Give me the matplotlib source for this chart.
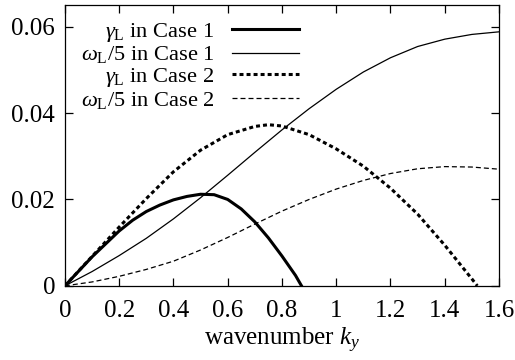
import matplotlib
matplotlib.use("Agg")
import matplotlib.pyplot as plt

plt.rcParams["font.family"] = "Liberation Serif"
plt.rcParams["mathtext.fontset"] = "custom"
plt.rcParams["mathtext.rm"] = "Liberation Serif"
plt.rcParams["mathtext.it"] = "Liberation Serif:italic"

# values
k_g1 = [0, 0.1, 0.2, 0.25, 0.3, 0.35, 0.4, 0.45, 0.5, 0.55, 0.6, 0.65, 0.7,
        0.75, 0.8, 0.85, 0.872]
gamma1 = [0, 0.0067, 0.0127, 0.0152, 0.0172, 0.0187, 0.0199, 0.0207, 0.0212,
          0.0211, 0.0200, 0.0178, 0.0148, 0.0111, 0.0069, 0.0024, 0.0]

k_w = [0, 0.1, 0.2, 0.3, 0.4, 0.5, 0.6, 0.7, 0.8, 0.9, 1.0, 1.1, 1.2, 1.3, 1.4, 1.5, 1.6]
omega1 = [0, 0.0033, 0.0070, 0.0110, 0.0155, 0.0204, 0.0256, 0.0309, 0.0361,
          0.0410, 0.0455, 0.0495, 0.0528, 0.0554, 0.0571, 0.0582, 0.0588]
omega2 = [0, 0.0009, 0.0022, 0.0038, 0.0057, 0.0083, 0.0112, 0.0143, 0.0173,
          0.0200, 0.0224, 0.0244, 0.0260, 0.0271, 0.0276, 0.0275, 0.0270]

k_g2 = [0, 0.1, 0.2, 0.3, 0.4, 0.5, 0.6, 0.7, 0.75, 0.8, 0.9, 1.0, 1.1, 1.2,
        1.3, 1.4, 1.5, 1.52]
gamma2 = [0, 0.0068, 0.0136, 0.0202, 0.0264, 0.0314, 0.0350, 0.0369, 0.0373,
          0.0370, 0.0350, 0.0317, 0.0277, 0.0226, 0.0166, 0.0094, 0.0016, 0.0]

xticks = [0, 0.2, 0.4, 0.6, 0.8, 1.0, 1.2, 1.4, 1.6]
xtick_labels = ["0", "0.2", "0.4", "0.6", "0.8", "1", "1.2", "1.4", "1.6"]
yticks = [0, 0.02, 0.04, 0.06]
ytick_labels = ["0", "0.02", "0.04", "0.06"]

fig = plt.figure(figsize=(5.15, 3.6), dpi=100)
ax = fig.add_axes([0.126, 0.206, 0.843, 0.780])

ax.plot(k_g1, gamma1, color="black", lw=2.2, label=r"$\gamma_{\rm L}$ in Case 1")
ax.plot(k_w, omega1, color="black", lw=0.9, label=r"$\omega_{\rm L}/5$ in Case 1")
ax.plot(k_g2, gamma2, color="black", lw=2.2, dashes=(1.3, 1.0),
        label=r"$\gamma_{\rm L}$ in Case 2")
ax.plot(k_w, omega2, color="black", lw=0.9, dashes=(4, 2.4),
        label=r"$\omega_{\rm L}/5$ in Case 2")

ax.set_xlim(0, 1.6)
ax.set_ylim(0, 0.065)
ax.set_xticks(xticks)
ax.set_xticklabels(xtick_labels)
ax.set_yticks(yticks)
ax.set_yticklabels(ytick_labels)
ax.tick_params(axis="both", direction="in", length=6, width=0.9, top=True,
               right=True, labelsize=18)
ax.tick_params(axis="x", pad=10)
ax.tick_params(axis="y", pad=7)
for s in ax.spines.values():
    s.set_linewidth(0.9)

ax.set_xlabel(r"wavenumber $k_y$", fontsize=18, labelpad=3)

ax.legend(loc="upper left", bbox_to_anchor=(0.0, 1.0), frameon=False,
          markerfirst=False, fontsize=16.2, handlelength=2.95, handletextpad=0.8,
          labelspacing=0.03, borderpad=0.3, borderaxespad=0.4)

fig.savefig("out.png", dpi=100)
